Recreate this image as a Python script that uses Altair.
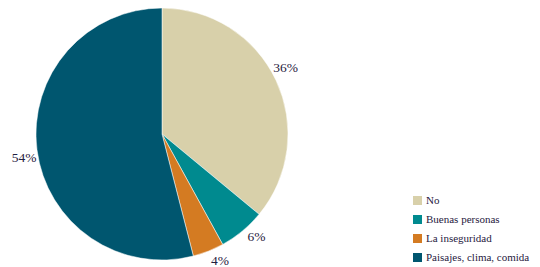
import altair as alt
import pandas as pd

categories = ["No", "Buenas personas", "La inseguridad", "Paisajes, clima, comida"]
values = [36, 6, 4, 54]
labels = ["36%", "6%", "4%", "54%"]
colors = ["#d8d0aa", "#008a8f", "#d47b22", "#00566f"]

df = pd.DataFrame({
    "cat": categories,
    "val": values,
    "lab": labels,
    "ord": list(range(len(categories))),
})

FONT = "Liberation Serif"
cx, cy = 154, 126

base = alt.Chart(df).encode(
    theta=alt.Theta("val:Q", stack=True),
    order=alt.Order("ord:Q"),
)

pie = base.mark_arc(outerRadius=126, stroke="white", strokeWidth=0.5).encode(
    x=alt.value(cx),
    y=alt.value(cy),
    color=alt.Color(
        "cat:N",
        scale=alt.Scale(domain=categories, range=colors),
        sort=categories,
        legend=alt.Legend(
            title=None,
            orient="none",
            legendX=404,
            legendY=187,
            padding=0,
            symbolType="square",
            symbolSize=81,
            symbolStrokeWidth=0,
            labelFont=FONT,
            labelFontSize=11,
            labelColor="#1f2040",
            rowPadding=7,
            labelOffset=3,
            labelLimit=200,
        ),
    ),
)

text = base.mark_text(radius=140, thetaOffset=-0.05, font=FONT, fontSize=13.5, color="#1f2040").encode(
    x=alt.value(cx),
    y=alt.value(cy),
    text="lab:N",
)

chart = alt.layer(pie, text).properties(
    width=524,
    height=259,
    autosize=alt.AutoSizeParams(type="none"),
    padding=0,
).configure_view(stroke=None)

chart.save("out.html", embed_options={"renderer": "svg", "actions": False})
